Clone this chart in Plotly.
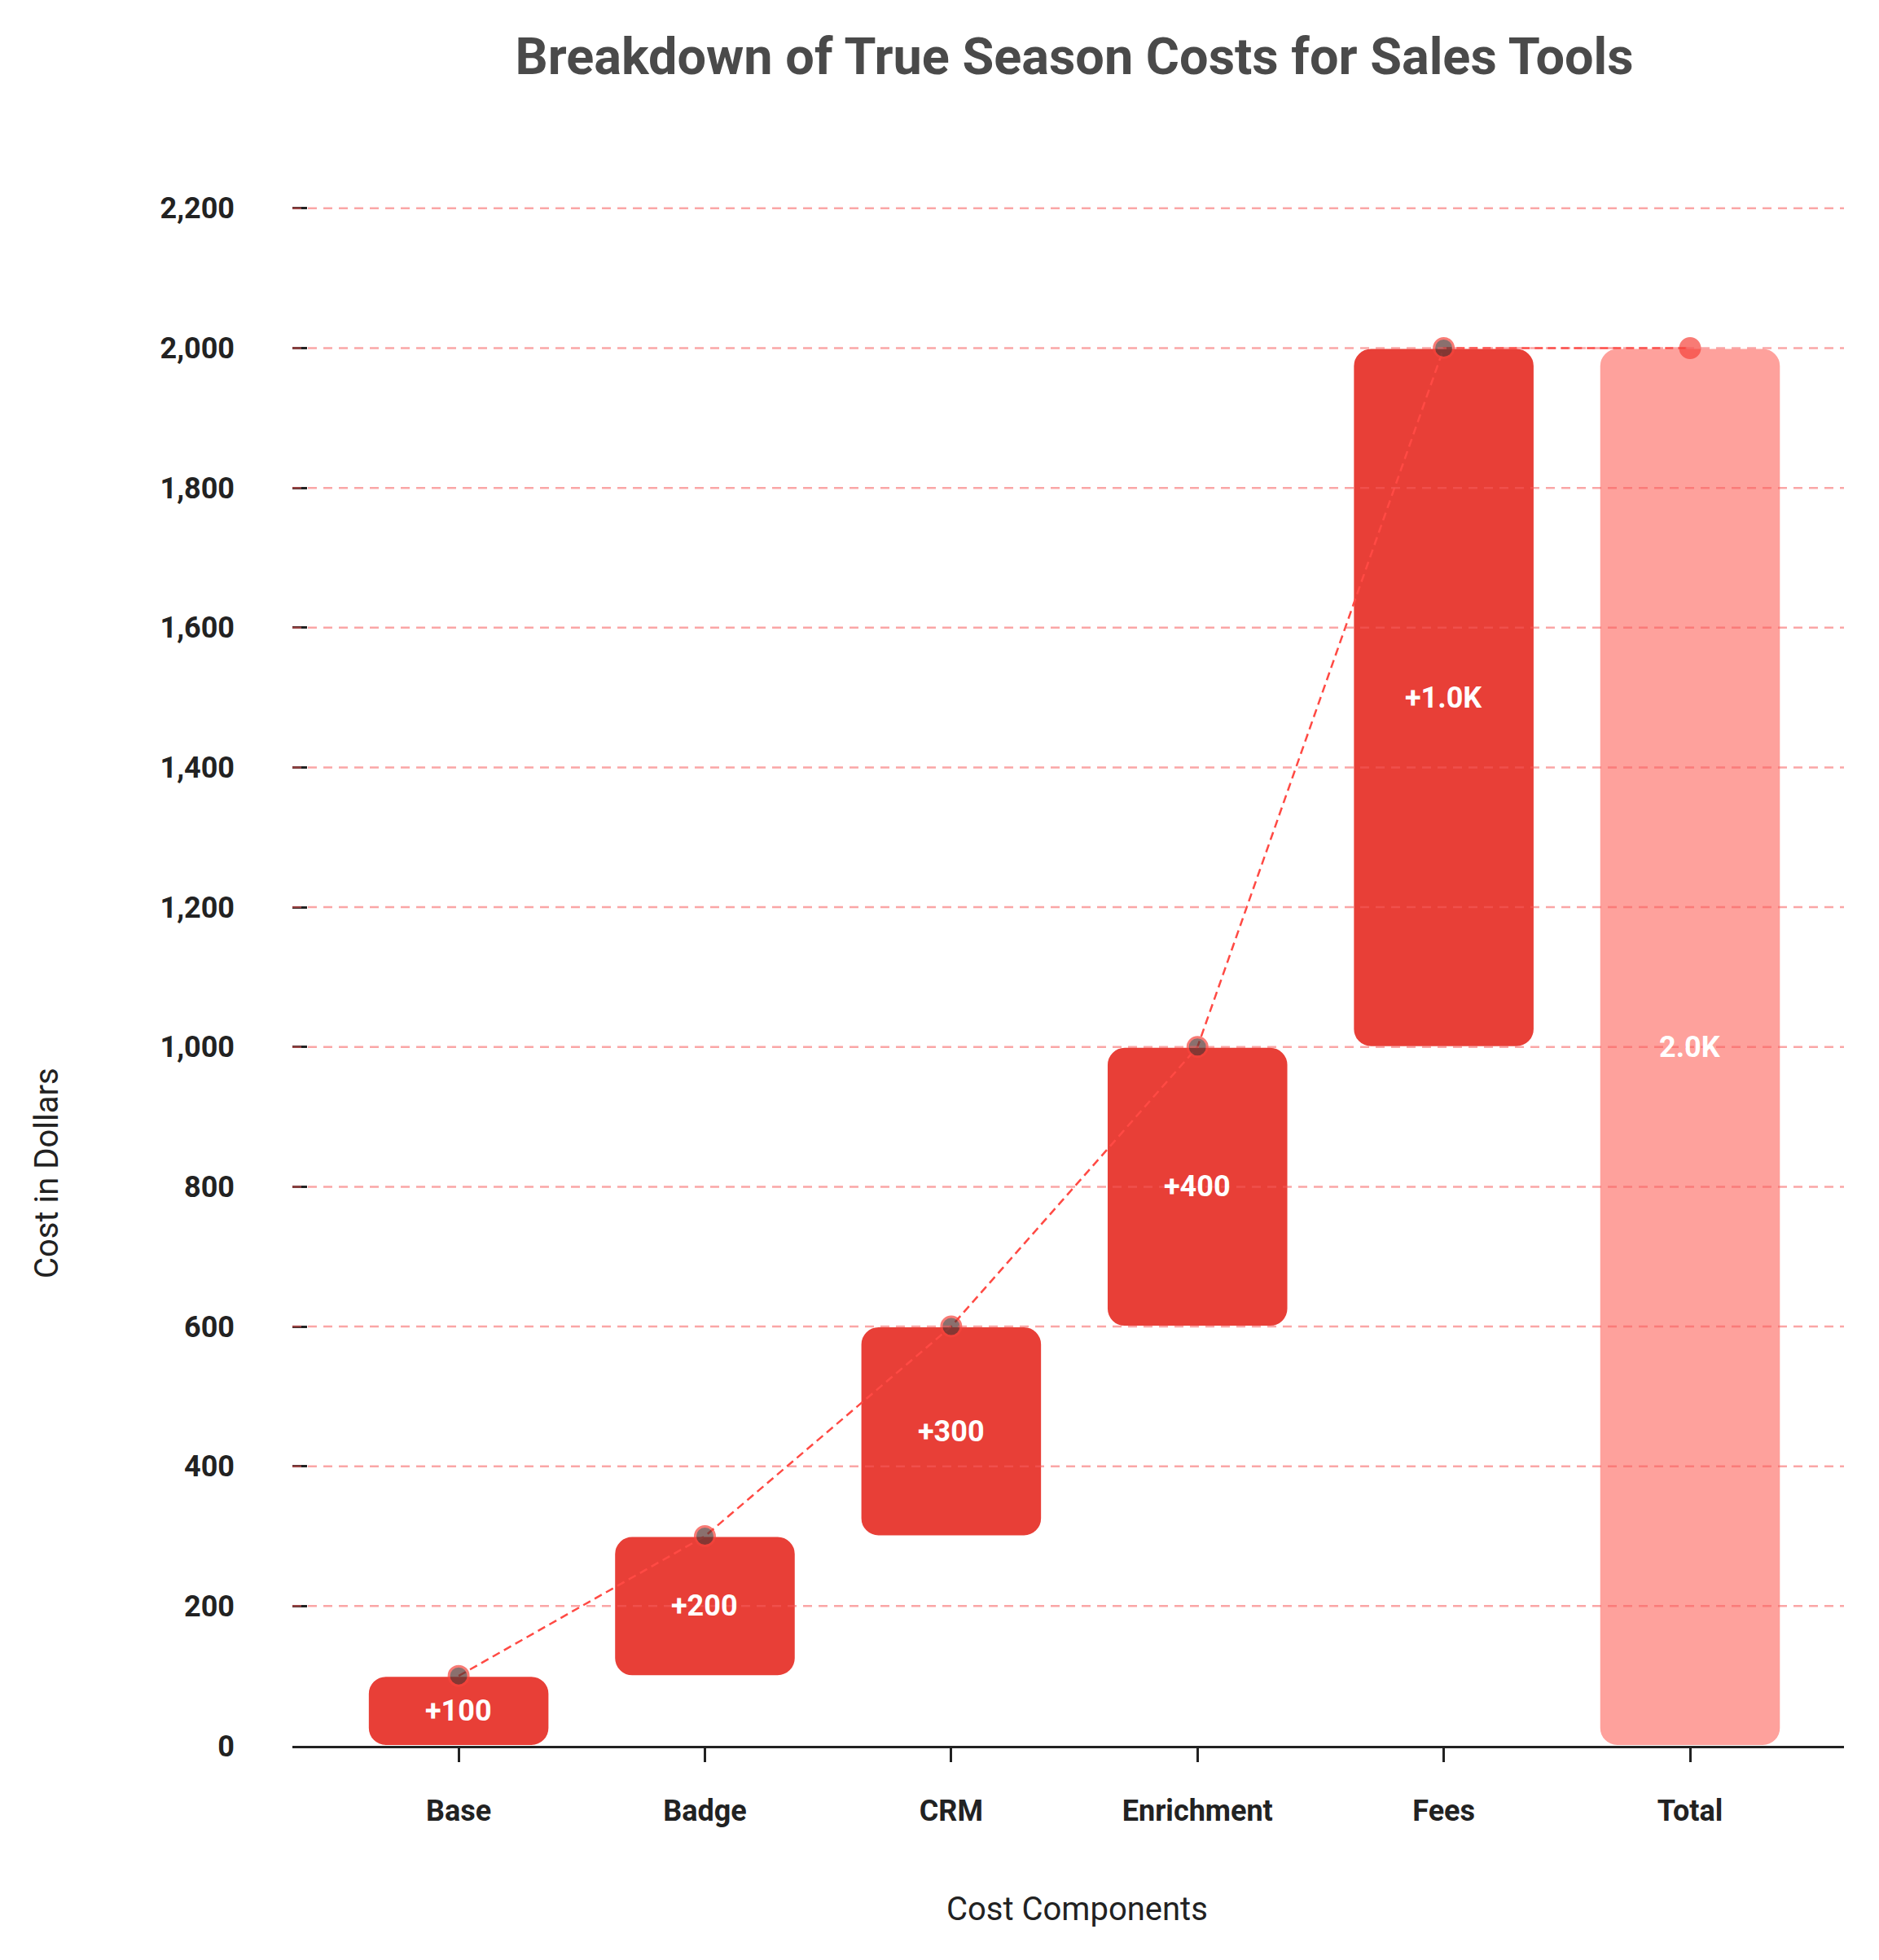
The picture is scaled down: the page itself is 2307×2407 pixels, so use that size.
import plotly.graph_objects as go

# ---- data ----
categories = ["Base", "Badge", "CRM", "Enrichment", "Fees", "Total"]
increments = [100, 200, 300, 400, 1000]
y_ticks = [0, 200, 400, 600, 800, 1000, 1200, 1400, 1600, 1800, 2000, 2200]

title_text = "Breakdown of True Season Costs for Sales Tools"
x_title = "Cost Components"
y_title = "Cost in Dollars"

# ---- derived ----
bases, cum = [], []
running = 0
for v in increments:
    bases.append(running)
    running += v
    cum.append(running)
total = running


def fmt(v, sign=True):
    t = f"{v/1000:.1f}K" if abs(v) >= 1000 else f"{v:,}"
    return ("+" if sign and v > 0 else "") + t


INC = "#E83F37"
TOT = "#FEA19C"
GRID = "rgba(246,93,93,0.55)"
FONT = "Roboto"

# plot geometry (px)
W, H = 2307, 2407
L, R, T, B = 359, 43, 170, 263
plot_w = W - L - R
plot_h = H - T - B

fig = go.Figure()

fig.add_trace(go.Bar(
    x=categories[:-1], y=increments, base=bases,
    width=0.736,
    marker=dict(color=INC, cornerradius=22, line=dict(color="white", width=2)),
    hoverinfo="skip", showlegend=False,
))

fig.add_trace(go.Bar(
    x=[categories[-1]], y=[total], base=[0],
    width=0.736,
    marker=dict(color=TOT, cornerradius=22, line=dict(color="white", width=2)),
    hoverinfo="skip", showlegend=False,
))

# dashed grid lines drawn above the bars (as in the reference)
for t in y_ticks[1:]:
    fig.add_shape(type="line", xref="paper", x0=0, x1=1, yref="y", y0=t, y1=t,
                  line=dict(color=GRID, width=2.5, dash="11px,8px"), layer="above")

fig.add_trace(go.Scatter(
    x=categories, y=cum + [total],
    mode="lines+markers",
    line=dict(color="#FF4A44", width=2.5, dash="10px,6px"),
    marker=dict(
        size=[24] * len(cum) + [24],
        color=["#5a3532"] * len(cum) + ["#F6443C"],
        line=dict(color=["#F6443C"] * len(cum) + ["#F6443C"], width=3),
    ),
    hoverinfo="skip", showlegend=False,
))

# bar value labels
annotations = []
for c, b, v in zip(categories[:-1], bases, increments):
    annotations.append(dict(x=c, y=b + v / 2, text=fmt(v), showarrow=False,
                            xanchor="center", yanchor="middle",
                            font=dict(family=FONT, size=36, color="white", weight="bold")))
annotations.append(dict(x=categories[-1], y=total / 2, text=fmt(total, sign=False), showarrow=False,
                        xanchor="center", yanchor="middle",
                        font=dict(family=FONT, size=36, color="white", weight="bold")))

annotations += [
    dict(text=x_title, xref="paper", yref="paper", x=(1322 - L) / plot_w, y=(H - B - 2344) / plot_h,
         xanchor="center", yanchor="middle", showarrow=False,
         font=dict(family=FONT, size=40, color="#222")),
    dict(text=y_title, xref="paper", yref="paper", x=(57 - L) / plot_w, y=(H - B - 1441) / plot_h,
         xanchor="center", yanchor="middle", showarrow=False, textangle=-90,
         font=dict(family=FONT, size=40, color="#222")),
]

fig.update_layout(
    width=W, height=H,
    margin=dict(l=L, r=R, t=T, b=B),
    paper_bgcolor="white", plot_bgcolor="white",
    barmode="overlay",
    font=dict(family=FONT, color="#222"),
    title=dict(
        text=title_text, x=0.504, xref="paper", y=1 - 69 / H, yanchor="middle",
        font=dict(family=FONT, size=63, color="#4a4a4a", weight="bold"),
    ),
    xaxis=dict(
        type="category", range=[-0.675, 5.625],
        showline=True, linecolor="#222", linewidth=3,
        ticks="outside", ticklen=17, tickwidth=3, tickcolor="#222",
        showgrid=False, zeroline=False,
        tickfont=dict(family=FONT, size=36, color="#222", weight="bold"),
        ticklabelstandoff=29,
    ),
    yaxis=dict(
        range=[0, 2300],
        tickvals=y_ticks, tickformat=",",
        showline=False, zeroline=False, showgrid=False,
        ticks="inside", ticklen=18, tickwidth=3, tickcolor="#222",
        tickfont=dict(family=FONT, size=36, color="#222", weight="bold"),
        ticklabelstandoff=70,
    ),
    annotations=annotations,
)

fig.write_html("out.html")
